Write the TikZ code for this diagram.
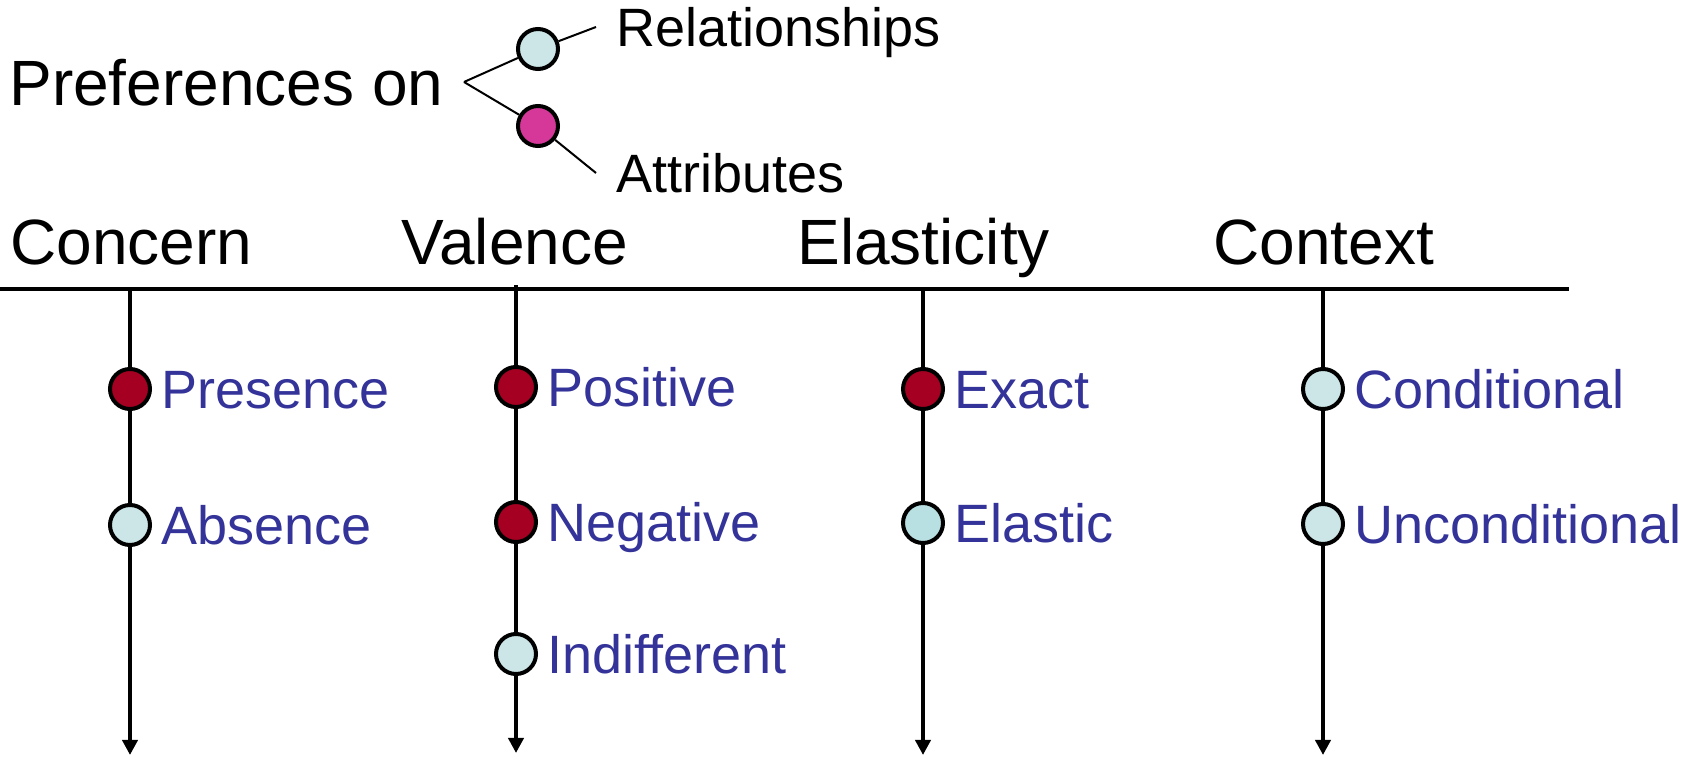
\documentclass[tikz,border=0pt]{standalone}
\usepackage{fontspec}
\setmainfont{Liberation Sans}
\usetikzlibrary{arrows.meta,positioning}

\definecolor{crimson}{HTML}{A50021}
\definecolor{paleblue}{HTML}{CCE6E8}
\definecolor{tealblue}{HTML}{B8E0E3}
\definecolor{orchid}{HTML}{D6389A}
\definecolor{optblue}{HTML}{333399}

\begin{document}
\begin{tikzpicture}[
    x=0.5pt, y=-0.5pt,
    every node/.style={inner sep=0pt},
    head/.style={font=\fontsize{32}{38}\selectfont, anchor=base west},
    sub/.style={font=\fontsize{27}{32}\selectfont, anchor=base west},
    opt/.style={font=\fontsize{27}{32}\selectfont, text=optblue, text height=19.3pt, text depth=0pt},
    pick/.style={circle, draw=black, line width=2pt, minimum size=20pt},
    rule/.style={line width=2pt},
    axis/.style={line width=2pt, -{Triangle[width=7.5pt,length=7.5pt]}},
    twig/.style={line width=1pt}
  ]
    \useasboundingbox (0,0) rectangle (1698,758);

    % preferences on relationships / attributes
    \node[head] (pref) at (9,106) {Preferences on};
    \coordinate (fork) at (464,82);
    \node[pick, fill=paleblue] (rel) at (538,49) {};
    \node[pick, fill=orchid] (attr) at (538,126) {};
    \coordinate (relend) at (596,27);
    \coordinate (attrend) at (596,173);
    \node[sub] (reltxt) at (616,47) {Relationships};
    \node[sub] (attrtxt) at (616,193) {Attributes};
    \draw[twig] (fork) -- (rel) -- (relend);
    \draw[twig] (fork) -- (attr) -- (attrend);

    % dimension headings and rule
    \node[head] (concern) at (10,265) {Concern};
    \node[head] (valence) at (401,265) {Valence};
    \node[head] (elast) at (797,265) {Elasticity};
    \node[head] (context) at (1213,265) {Context};
    \coordinate (ruleL) at (0,289);
    \coordinate (ruleR) at (1569,289);
    \draw[rule] (ruleL) -- (ruleR);

    % concern
    \node[pick, fill=crimson] (pres) at (130,389) {};
    \node[pick, fill=paleblue] (abs) at (130,525) {};
    \node[opt, right=4.5pt of pres] (prestxt) {Presence};
    \node[opt, right=4.5pt of abs] (abstxt) {Absence};
    \coordinate (concerntop) at (130,289);
    \coordinate (concernend) at (130,755);
    \draw[axis] (concerntop) -- (pres) -- (abs) -- (concernend);

    % valence
    \node[pick, fill=crimson] (pos) at (516,387) {};
    \node[pick, fill=crimson] (neg) at (516,522) {};
    \node[pick, fill=paleblue] (ind) at (516,654) {};
    \node[opt, right=4.5pt of pos] (postxt) {Positive};
    \node[opt, right=4.5pt of neg] (negtxt) {Negative};
    \node[opt, right=4.5pt of ind] (indtxt) {Indifferent};
    \coordinate (valencetop) at (516,285);
    \coordinate (valenceend) at (516,753);
    \draw[axis] (valencetop) -- (pos) -- (neg) -- (ind) -- (valenceend);

    % elasticity
    \node[pick, fill=crimson] (exact) at (923,389) {};
    \node[pick, fill=tealblue] (elastic) at (923,523) {};
    \node[opt, right=4.5pt of exact] (exacttxt) {Exact};
    \node[opt, right=4.5pt of elastic] (elastictxt) {Elastic};
    \coordinate (elasttop) at (923,289);
    \coordinate (elastend) at (923,755);
    \draw[axis] (elasttop) -- (exact) -- (elastic) -- (elastend);

    % context
    \node[pick, fill=paleblue] (cond) at (1323,389) {};
    \node[pick, fill=paleblue] (uncond) at (1323,524) {};
    \node[opt, right=4.5pt of cond] (condtxt) {Conditional};
    \node[opt, right=4.5pt of uncond] (uncondtxt) {Unconditional};
    \coordinate (contexttop) at (1323,289);
    \coordinate (contextend) at (1323,755);
    \draw[axis] (contexttop) -- (cond) -- (uncond) -- (contextend);
  \end{tikzpicture}
\end{document}
